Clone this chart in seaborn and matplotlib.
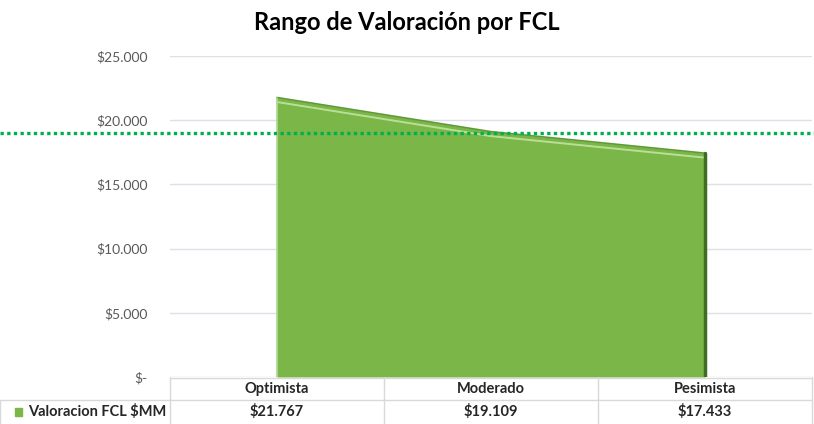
import matplotlib
matplotlib.use("Agg")
import numpy as np
import pandas as pd
import matplotlib.pyplot as plt
import matplotlib.transforms as mtransforms
import seaborn as sns

# data
escenarios = ["Optimista", "Moderado", "Pesimista"]
valoracion = [21767, 19109, 17433]
valor_referencia = 19000
serie = "Valoracion FCL $MM"
yticks = [0, 5000, 10000, 15000, 20000, 25000]

df = pd.DataFrame({"escenario": escenarios, "valor": valoracion, "pos": range(len(escenarios))})

sns.set_style("white")
plt.rcParams["font.family"] = ["Lato", "DejaVu Sans"]

W, H = 814, 424
fig = plt.figure(figsize=(W / 100, H / 100), dpi=100)
# plot area in pixel coords: x 170..812, y 56..377
ax = fig.add_axes([170 / W, 1 - 377 / H, (812 - 170) / W, (377 - 56) / H])

green = "#7AB648"
ax.fill_between(df["pos"], df["valor"], 0, color=green, zorder=2, linewidth=0)
sns.lineplot(data=df, x="pos", y="valor", ax=ax, color="#5E9A35", linewidth=1.2, zorder=3)
# bevel highlight just under the top edge
ax.plot(df["pos"], np.array(valoracion) - 350, color="#D8F0B8", linewidth=1.4, zorder=3, alpha=0.7)
ax.plot([2, 2], [0, valoracion[-1]], color="#3E6E22", linewidth=2.5, zorder=3)
ax.plot([0, 0], [0, valoracion[0]], color="#A9D38A", linewidth=1.2, zorder=3)

ax.set_xlim(-0.5, 2.5)
ax.set_ylim(0, 25000)
ax.set_yticks(yticks)
ax.set_yticklabels(["$-" if v == 0 else "$" + f"{v:,}".replace(",", ".") for v in yticks],
                   color="#595959", fontsize=10)
ax.tick_params(axis="y", length=0, pad=16)
ax.set_xticks([])
ax.set_xlabel("")
ax.set_ylabel("")
ax.grid(axis="y", color="#DDE0E6", linewidth=1, zorder=0)
ax.set_axisbelow(True)
for s in ax.spines.values():
    s.set_visible(False)

# dotted reference line across the full width
trans = mtransforms.blended_transform_factory(fig.transFigure, ax.transData)
ax.plot([0, 1], [valor_referencia, valor_referencia], transform=trans, clip_on=False,
        color="#00B050", linewidth=2.4, linestyle=(0, (1, 1)), dash_capstyle="butt", zorder=5)

fig.text(0.5, 1 - 22 / H, "Rango de Valoración por FCL", ha="center", va="center",
         fontsize=17, fontweight="bold", color="#000000")

# data table below the plot
tab = fig.add_axes([0, 0, 1, 47 / H])
tab.set_xlim(0, W)
tab.set_ylim(424, 377)
tab.axis("off")
border = "#D9D9D9"
col_edges = [170, 384, 598, 812]
tab.plot([170, 812], [377.5, 377.5], color=border, lw=1)
tab.plot([0, 812], [400, 400], color=border, lw=1)
for xe in col_edges:
    tab.plot([xe, xe], [377, 424], color=border, lw=1)
tab.plot([0, 0], [400, 424], color=border, lw=1)
for i, (name, val) in enumerate(zip(escenarios, valoracion)):
    xc = (col_edges[i] + col_edges[i + 1]) / 2
    tab.text(xc, 389, name, ha="center", va="center", fontsize=10.5, fontweight="bold")
    tab.text(xc, 412, "$" + f"{val:,}".replace(",", "."), ha="center", va="center",
             fontsize=10.5, fontweight="bold")
tab.add_patch(plt.Rectangle((15, 408), 7, 8, color=green))
tab.text(28, 412, serie, ha="left", va="center", fontsize=10.5, fontweight="bold")

fig.savefig("out.png", dpi=100)
